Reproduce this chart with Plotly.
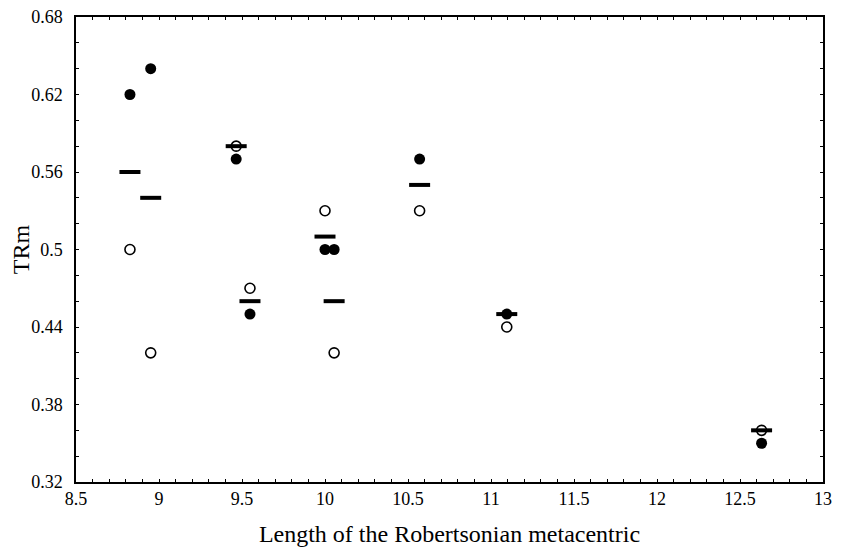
import plotly.graph_objects as go

# Data
x_pos = [8.825, 8.95, 9.465, 9.548, 10.0, 10.055, 10.57, 11.095, 12.63]
filled_vals = [0.62, 0.64, 0.57, 0.45, 0.50, 0.50, 0.57, 0.45, 0.35]
open_vals = [0.50, 0.42, 0.58, 0.47, 0.53, 0.42, 0.53, 0.44, 0.36]
mean_vals = [0.56, 0.54, 0.58, 0.46, 0.51, 0.46, 0.55, 0.45, 0.36]

x_ticks = [8.5, 9, 9.5, 10, 10.5, 11, 11.5, 12, 12.5, 13]
y_ticks = [0.32, 0.38, 0.44, 0.50, 0.56, 0.62, 0.68]
y_tick_text = ["0.32", "0.38", "0.44", "0.5", "0.56", "0.62", "0.68"]

fig = go.Figure()
fig.add_trace(go.Scatter(
    x=x_pos, y=open_vals, mode="markers",
    marker=dict(symbol="circle-open", size=10, color="black", line=dict(width=1.6, color="black")),
    name="open"))
fig.add_trace(go.Scatter(
    x=x_pos, y=mean_vals, mode="markers",
    marker=dict(symbol="line-ew", size=15, color="black", line=dict(width=4, color="black")),
    name="mean"))
fig.add_trace(go.Scatter(
    x=x_pos, y=filled_vals, mode="markers",
    marker=dict(symbol="circle", size=11, color="black", line=dict(width=0)),
    name="filled"))

font = dict(family="Liberation Serif, Times New Roman, serif", color="#000000")

fig.update_layout(
    width=837, height=539,
    margin=dict(l=68, r=22, t=9, b=65),
    paper_bgcolor="white", plot_bgcolor="white",
    showlegend=False,
    font=dict(**font, size=18),
)
fig.update_xaxes(
    automargin=False, ticklabeloverflow="allow",
    range=[8.5, 13], tickmode="array", tickvals=x_ticks, ticktext=[str(v) for v in x_ticks],
    showgrid=False, zeroline=False, showline=True, linecolor="black", linewidth=1.5,
    mirror="ticks", ticks="inside", ticklen=3, tickwidth=1, tickcolor="black",
    minor=dict(ticks="inside", ticklen=3, dtick=0.1, tickcolor="black", tickwidth=1, showgrid=False),
    tickfont=dict(**font, size=18),
    title=dict(text="Length of the Robertsonian metacentric", font=dict(**font, size=24), standoff=20),
)
fig.update_yaxes(
    automargin=False, ticklabeloverflow="allow",
    range=[0.32, 0.68], tickmode="array", tickvals=y_ticks, ticktext=y_tick_text,
    showgrid=False, zeroline=False, showline=True, linecolor="black", linewidth=1.5,
    mirror="ticks", ticks="inside", ticklen=3, tickwidth=1, tickcolor="black",
    minor=dict(ticks="inside", ticklen=3, dtick=0.02, tickcolor="black", tickwidth=1, showgrid=False),
    tickfont=dict(**font, size=18), ticklabelstandoff=8,
    title=dict(text="TRm", font=dict(**font, size=24), standoff=6),
)

fig.write_html("out.html")
